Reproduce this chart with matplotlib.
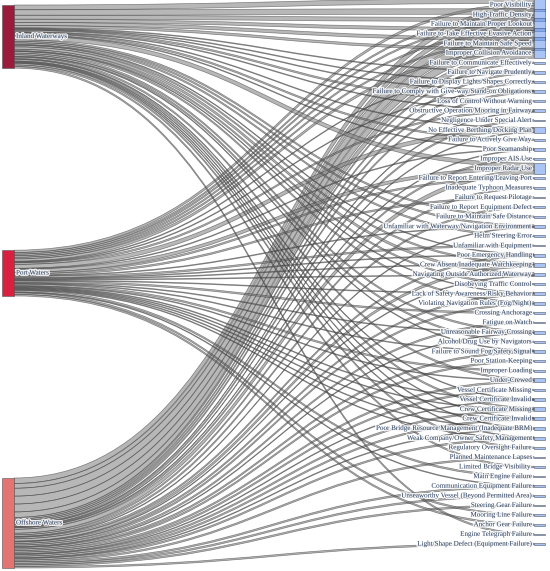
import numpy as np
import matplotlib.pyplot as plt
from matplotlib.path import Path
from matplotlib.patches import PathPatch, Rectangle
import matplotlib.patheffects as pe

# =====================
# Data
# =====================
sources = ["Inland Waterways", "Port Waters", "Offshore Waters"]
source_colors = ["#9b1b3b", "#d9203f", "#e27474"]

targets = [
    "Poor Visibility", "High Traffic Density", "Failure to Maintain Proper Lookout",
    "Failure to Take Effective Evasive Action", "Failure to Maintain Safe Speed",
    "Improper Collision Avoidance", "Failure to Communicate Effectively",
    "Failure to Navigate Prudently", "Failure to Display Lights/Shapes Correctly",
    "Failure to Comply with Give-way/Stand-on Obligations", "Loss of Control Without Warning",
    "Obstructive Operation/Mooring in Fairway", "Negligence Under Special Alert",
    "No Effective Berthing/Docking Plan", "Failure to Actively Give Way", "Poor Seamanship",
    "Improper AIS Use", "Improper Radar Use", "Failure to Report Entering/Leaving Port",
    "Inadequate Typhoon Measures", "Failure to Request Pilotage",
    "Failure to Report Equipment Defect", "Failure to Maintain Safe Distance",
    "Unfamiliar with Waterway/Navigation Environment", "Helm Steering Error",
    "Unfamiliar with Equipment", "Poor Emergency Handling",
    "Crew Absent/Inadequate Watchkeeping", "Navigating Outside Authorized Waterway",
    "Disobeying Traffic Control", "Lack of Safety Awareness/Risky Behavior",
    "Violating Navigation Rules (Fog/Night)", "Crossing Anchorage", "Fatigue on Watch",
    "Unreasonable Fairway Crossing", "Alcohol/Drug Use by Navigators",
    "Failure to Sound Fog/Safety Signal", "Poor Station-Keeping", "Improper Loading",
    "Under-Crewed", "Vessel Certificate Missing", "Vessel Certificate Invalid",
    "Crew Certificate Missing", "Crew Certificate Invalid",
    "Poor Bridge Resource Management (Inadequate BRM)",
    "Weak Company/Owner Safety Management", "Regulatory Oversight Failure",
    "Planned Maintenance Lapses", "Limited Bridge Visibility", "Main Engine Failure",
    "Communication Equipment Failure", "Unseaworthy Vessel (Beyond Permitted Area)",
    "Steering Gear Failure", "Mooring Line Failure", "Anchor Gear Failure",
    "Engine Telegraph Failure", "Light/Shape Defect (Equipment Failure)",
]

inland = [6, 7, 5, 4, 4, 3, 0, 1, 1, 1, 2, 1, 0, 1, 2, 1, 0, 5, 0, 0, 0, 0, 2, 2, 2,
          0, 1, 2, 3, 2, 1, 2, 0, 0, 2, 2, 1, 0, 0, 2, 0, 1, 2, 1, 1, 1, 2, 0, 2, 0,
          0, 0, 0, 0, 0, 2, 0]
port = [3, 2, 2, 2, 2, 3, 0, 1, 0, 1, 0, 2, 0, 5, 0, 1, 0, 4, 2, 0, 2, 0, 0, 1, 0,
        2, 1, 1, 1, 0, 1, 0, 2, 0, 1, 0, 1, 0, 2, 1, 0, 1, 1, 1, 1, 1, 0, 0, 0, 2,
        1, 0, 0, 2, 2, 0, 0]
offshore = [7, 6, 10, 10, 10, 7, 2, 2, 2, 2, 0, 1, 2, 1, 0, 1, 2, 5, 0, 2, 0, 2, 0, 1, 0,
            0, 2, 3, 1, 0, 2, 2, 0, 2, 1, 0, 2, 2, 0, 2, 2, 1, 2, 2, 1, 2, 0, 2, 0, 0,
            2, 2, 2, 0, 0, 0, 2]

# =====================
# Layout
# =====================
W, H = 550, 571
flows = np.array([inland, port, offshore], dtype=float)
src_tot = flows.sum(axis=1)
tgt_tot = flows.sum(axis=0)

top, bottom = 5, 568
k = 199 / flows.sum()  # pixels per unit
gap = (bottom - top - k * src_tot.sum()) / (len(sources) - 1)

src_y0 = []
y = top
for t in src_tot:
    src_y0.append(y)
    y += k * t + gap

# right column: fixed, evenly spaced centres
tgt_c = np.linspace(5, 544, len(targets))
tgt_y0 = tgt_c - k * tgt_tot / 2

xl0, xl1 = 2, 14
xr0, xr1 = 534, 545
xm = (xl1 + xr0) / 2

fig = plt.figure(figsize=(5.5, 5.71), dpi=100)
ax = fig.add_axes([0, 0, 1, 1])
ax.set_xlim(0, W)
ax.set_ylim(H, 0)
ax.axis("off")

# =====================
# Links
# =====================
src_off = list(src_y0)
tgt_off = list(tgt_y0)
for j in range(len(targets)):
    for i in range(len(sources)):
        v = flows[i, j]
        if v <= 0:
            continue
        h = k * v
        s0, s1 = src_off[i], src_off[i] + h
        t0, t1 = tgt_off[j], tgt_off[j] + h
        src_off[i] += h
        tgt_off[j] += h
        verts = [(xl1, s0), (xm, s0), (xm, t0), (xr0, t0),
                 (xr0, t1), (xm, t1), (xm, s1), (xl1, s1), (xl1, s0)]
        codes = [Path.MOVETO, Path.CURVE4, Path.CURVE4, Path.CURVE4,
                 Path.LINETO, Path.CURVE4, Path.CURVE4, Path.CURVE4, Path.CLOSEPOLY]
        ax.add_patch(PathPatch(Path(verts, codes), facecolor="#7c7c7c", alpha=0.55,
                               edgecolor="#333333", lw=0.5, zorder=1))

# =====================
# Nodes
# =====================
for i, name in enumerate(sources):
    ax.add_patch(Rectangle((xl0, src_y0[i]), xl1 - xl0, k * src_tot[i],
                           facecolor=source_colors[i], edgecolor="#555555", lw=0.4, zorder=3))
for j, name in enumerate(targets):
    ax.add_patch(Rectangle((xr0, tgt_y0[j]), xr1 - xr0, k * tgt_tot[j],
                           facecolor="#6495ed", alpha=0.55, edgecolor="#333a4a", lw=0.6, zorder=3))

# =====================
# Labels
# =====================
halo = [pe.withStroke(linewidth=1.8, foreground="white", alpha=0.85)]
for j, name in enumerate(targets):
    ax.text(xr0 - 2, tgt_c[j], name, ha="right", va="center", fontsize=5.1,
            family="Liberation Serif", color="#2a3f5f", path_effects=halo, zorder=4)
for i, name in enumerate(sources):
    ax.text(xl1 + 2, src_y0[i] + k * src_tot[i] / 2, name, ha="left", va="center",
            fontsize=5.1, family="Liberation Serif", color="#2a3f5f",
            path_effects=halo, zorder=4)

fig.savefig("out.png", dpi=100, facecolor="white")
